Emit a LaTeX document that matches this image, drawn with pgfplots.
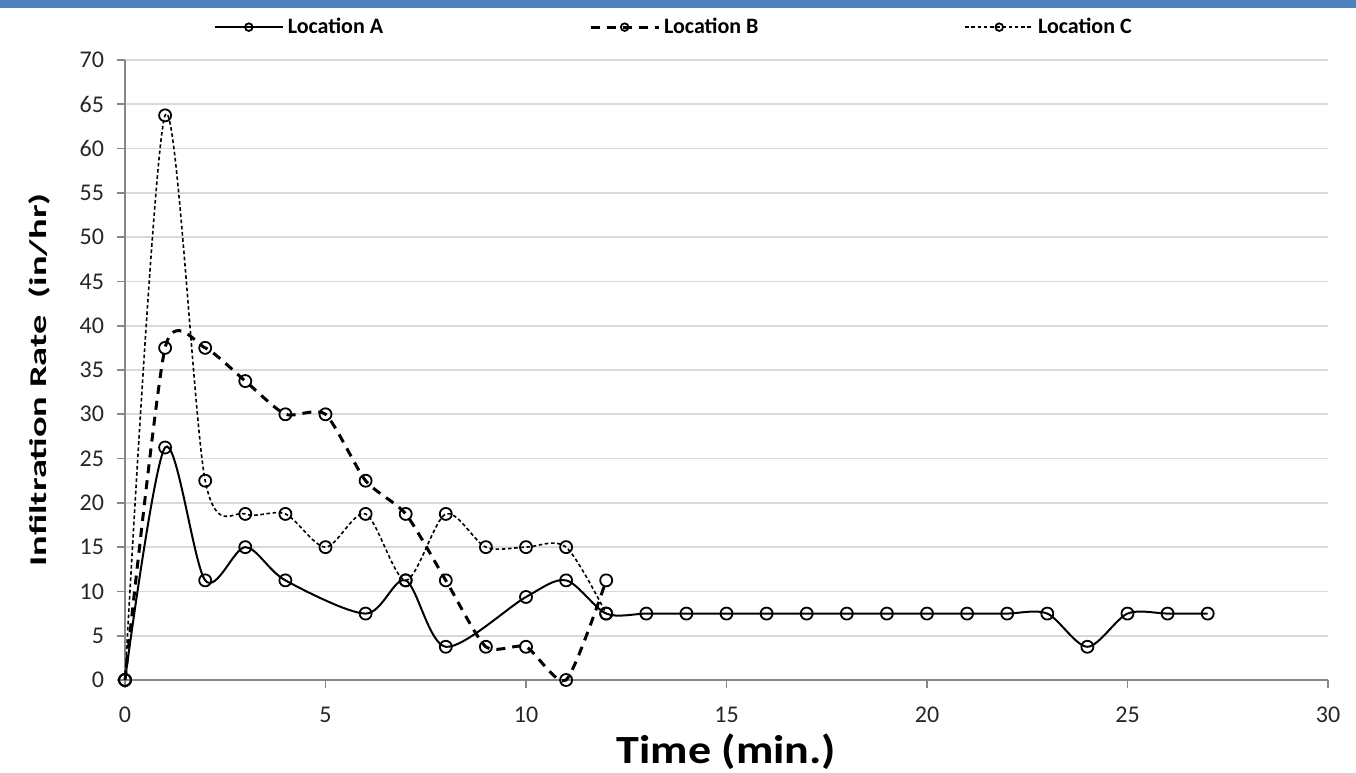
\documentclass[border=0pt]{standalone}
\usepackage{pgfplots}
\pgfplotsset{compat=1.18}
\usepackage{fontspec}
\setmainfont{Carlito}
\definecolor{topblue}{RGB}{79,129,189}
\definecolor{gridgray}{RGB}{217,217,217}
\definecolor{axgray}{RGB}{134,134,134}
\begin{document}
\begin{tikzpicture}
\useasboundingbox (-62.5pt,-46pt) rectangle (615.5pt,340pt);
\fill[topblue] (-62.5pt,336pt) rectangle (615.5pt,340pt);
\begin{axis}[
  at={(0,0)}, anchor=south west,
  scale only axis, width=601.5pt, height=310pt,
  xmin=0, xmax=30, ymin=0, ymax=70,
  xtick={0,5,...,30}, ytick={0,5,...,70},
  axis x line*=bottom, axis y line*=left,
  axis line style={axgray, line width=0.8pt, -},
  tick style={axgray, line width=0.8pt},
  tick align=outside, major tick length=4pt,
  ymajorgrids, grid style={gridgray, line width=0.8pt},
  /pgf/number format/assume math mode=true,
  tick label style={font=\fontsize{12}{14}\selectfont, text=black!85},
  xticklabel style={yshift=-6pt},
  yticklabel style={xshift=-3pt},
  xlabel={\textbf{\scalebox{1.15}[1]{Time (min.)}}},
  ylabel={\textbf{\scalebox{1.6}[1]{Infiltration Rate\ \ (in/hr)}}},
  xlabel style={font=\fontsize{20}{24}\selectfont, at={(axis description cs:0.5,-0.115)}, anchor=center},
  ylabel style={font=\fontsize{12}{14}\selectfont, at={(axis description cs:-0.0715,0.484)}, anchor=center},
  clip=false,
  legend columns=3,
  legend style={draw=none, fill=none, font=\fontsize{11}{13}\selectfont\bfseries,
    at={(axis description cs:0.457,1.053)}, anchor=center,
    /tikz/every even column/.append style={column sep=101pt}},
  legend image code/.code={
    \draw[#1] (0pt,0pt) -- (34pt,0pt);
    \draw[#1, solid, mark size=1.9pt] plot coordinates {(17pt,0pt)};
  },
]
\addplot[black, line width=1pt, smooth, tension=0.5, mark=o, mark size=3pt,
  mark options={solid, line width=0.9pt}] coordinates {
  (0,0) (1,26.25) (2,11.25) (3,15) (4,11.25) (6,7.5) (7,11.25) (8,3.75)
  (10,9.375) (11,11.25) (12,7.5) (13,7.5) (14,7.5) (15,7.5) (16,7.5) (17,7.5)
  (18,7.5) (19,7.5) (20,7.5) (21,7.5) (22,7.5) (23,7.5) (24,3.75) (25,7.5)
  (26,7.5) (27,7.5)};
\addlegendentry{Location A}
\addplot[black, line width=1.5pt, dash pattern=on 4.5pt off 3.5pt, smooth, tension=0.4,
  mark=o, mark size=3pt, mark options={solid, line width=0.9pt}] coordinates {
  (0,0) (1,37.5) (2,37.5) (3,33.75) (4,30) (5,30) (6,22.5) (7,18.75)
  (8,11.25) (9,3.75) (10,3.75) (11,0) (12,11.25)};
\addlegendentry{Location B}
\addplot[black, line width=0.8pt, dash pattern=on 1.8pt off 1.3pt, smooth, tension=0.5,
  mark=o, mark size=3pt, mark options={solid, line width=0.9pt}] coordinates {
  (0,0) (1,63.75) (2,22.5) (3,18.75) (4,18.75) (5,15) (6,18.75) (7,11.25)
  (8,18.75) (9,15) (10,15) (11,15) (12,7.5)};
\addlegendentry{Location C}
\end{axis}
\end{tikzpicture}
\end{document}
